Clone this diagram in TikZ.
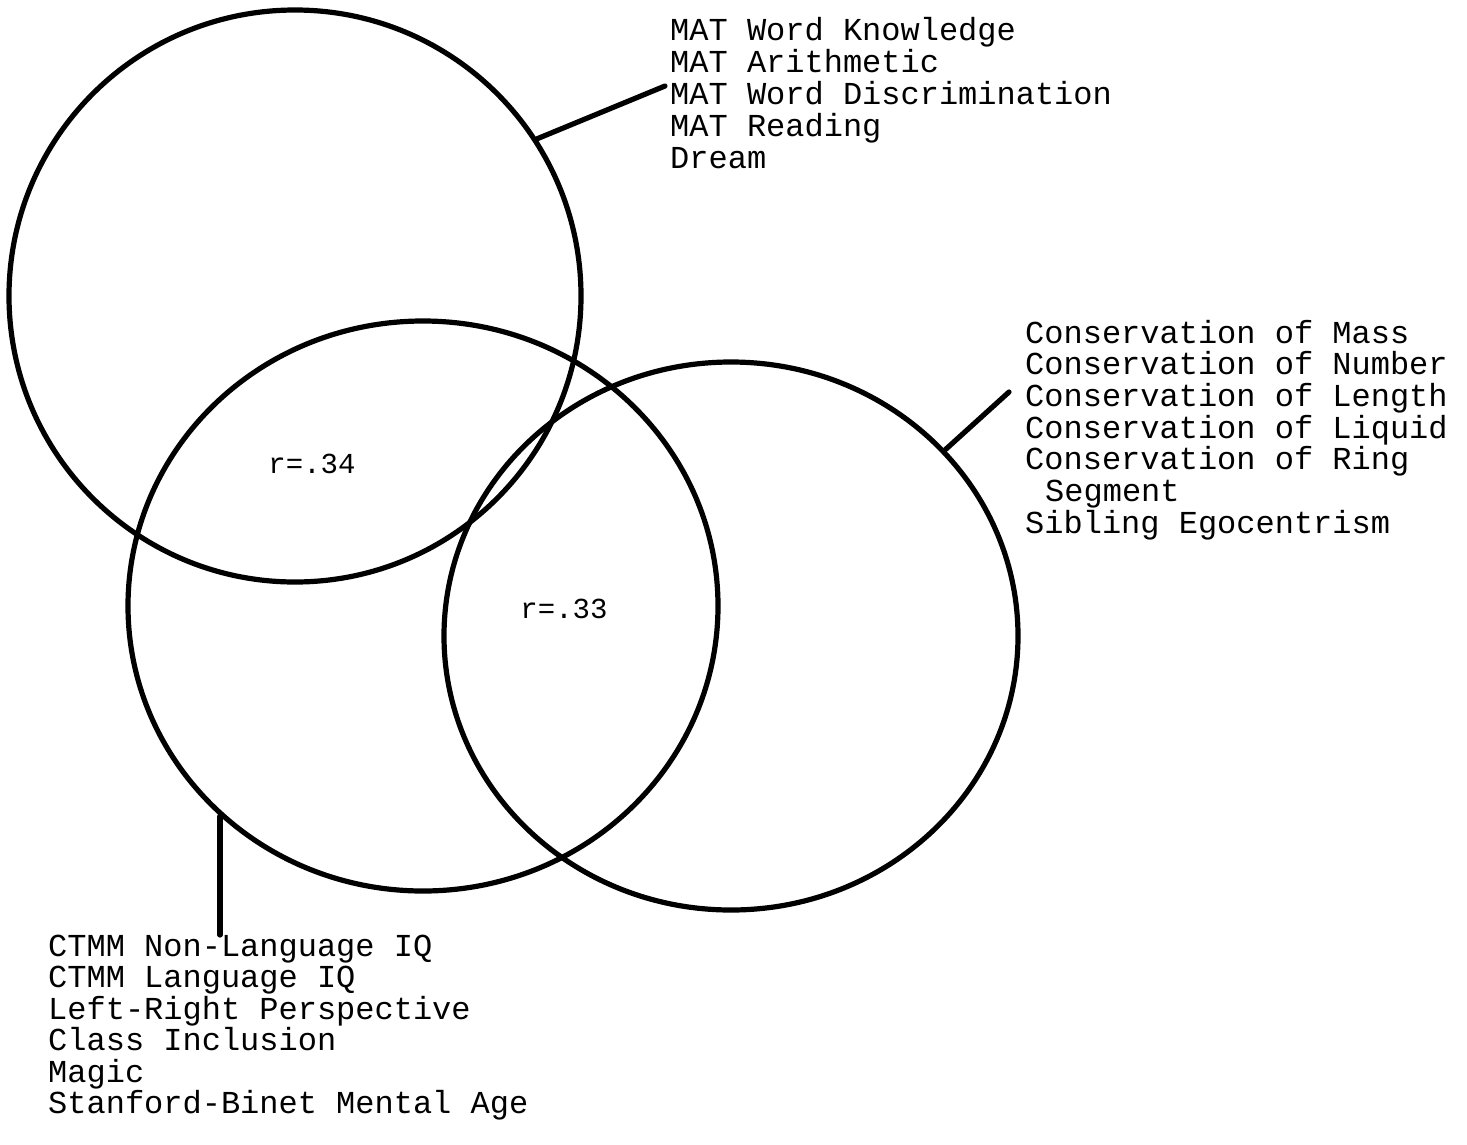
\documentclass[tikz,border=0pt]{standalone}
\usepackage{fontspec}
\setmonofont{Liberation Mono}
\usetikzlibrary{shapes.geometric}
\begin{document}
\begin{tikzpicture}[x=1pt,y=-1pt,
  ring/.style={draw=black, line width=5.2pt, ellipse, inner sep=0pt},
  lead/.style={draw=black, line width=5.2pt, line cap=round},
  lbl/.style={font=\fontsize{32}{32}\selectfont\ttfamily, inner sep=0pt, anchor=base west},
  rval/.style={font=\fontsize{29}{29}\selectfont\ttfamily, inner sep=0pt}]
\useasboundingbox[fill=white] (0,0) rectangle (1467,1144);

% circles
\node[ring, minimum width=572pt, minimum height=572pt] (c1) at (295,296) {};
\node[ring, minimum width=590pt, minimum height=570pt] (c2) at (423,606) {};
\node[ring, minimum width=574pt, minimum height=548pt] (c3) at (731,636) {};

% correlation labels
\node[rval] (r34) at (312,464) {r=.34};
\node[rval] (r33) at (564,609) {r=.33};

% label blocks
\foreach \t [count=\i] in {MAT Word Knowledge, MAT Arithmetic, MAT Word Discrimination, MAT Reading, Dream}
  \node[lbl] (top\i) at (670, {40+32*(\i-1)}) {\t};

\foreach \t [count=\i] in {Conservation of Mass, Conservation of Number, Conservation of Length, Conservation of Liquid, Conservation of Ring}
  \node[lbl] (rt\i) at (1025, {343+31.7*(\i-1)}) {\t};
\node[lbl] (rt6) at (1045, {343+31.7*5}) {Segment};
\node[lbl] (rt7) at (1025, {343+31.7*6}) {Sibling Egocentrism};

\foreach \t [count=\i] in {CTMM Non-Language IQ, CTMM Language IQ, Left-Right Perspective, Class Inclusion, Magic, Stanford-Binet Mental Age}
  \node[lbl] (bt\i) at (48, {956+31.5*(\i-1)}) {\t};

% leader lines
\coordinate (e1) at (665,86);
\coordinate (e3) at (1009,392);
\coordinate (e2) at (215,935);
\draw[lead] (c1.33) -- (e1);
\draw[lead] (c3.41) -- (e3);
\draw[lead] (c2.226.2) -- (c2.226.2 |- e2);
\end{tikzpicture}
\end{document}
